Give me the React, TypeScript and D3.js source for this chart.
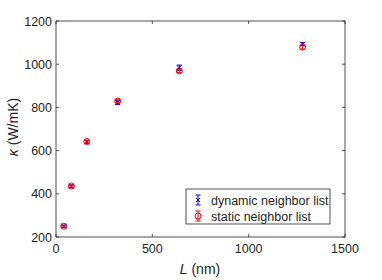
import React, { useEffect, useRef } from 'react';
import * as d3 from 'd3';

// chart data
const lengths = [40, 80, 160, 320, 640, 1280];
const dynamicKappa = [250, 435, 640, 822, 983, 1093];
const dynamicErr = [5, 6, 7, 9, 13, 7];
const staticKappa = [250, 436, 642, 829, 969, 1079];
const staticErr = [4, 5, 6, 7, 8, 9];
const xTicks = [0, 500, 1000, 1500];
const yTicks = [200, 400, 600, 800, 1000, 1200];
const legendLabels = ['dynamic neighbor list', 'static neighbor list'];

const App = () => {
  const svgRef = useRef<SVGSVGElement>(null);

  useEffect(() => {
    const svg = d3.select(svgRef.current);
    svg.selectAll('*').remove();

    const left = 56, right = 345, top = 21, bottom = 237;
    const axisColor = '#262626';
    const font = 'Liberation Sans, Arial, sans-serif';

    const x = d3.scaleLinear().domain([0, 1500]).range([left, right]);
    const y = d3.scaleLinear().domain([200, 1200]).range([bottom, top]);

    // frame
    svg.append('rect')
      .attr('x', left).attr('y', top)
      .attr('width', right - left).attr('height', bottom - top)
      .attr('fill', 'white').attr('stroke', axisColor).attr('stroke-width', 0.8);

    const tl = 3;
    // x ticks (bottom + top)
    xTicks.forEach(t => {
      const px = x(t);
      svg.append('line').attr('x1', px).attr('x2', px).attr('y1', bottom).attr('y2', bottom - tl)
        .attr('stroke', axisColor).attr('stroke-width', 0.8);
      svg.append('line').attr('x1', px).attr('x2', px).attr('y1', top).attr('y2', top + tl)
        .attr('stroke', axisColor).attr('stroke-width', 0.8);
      svg.append('text').attr('x', px).attr('y', bottom + 16)
        .attr('text-anchor', 'middle').attr('font-family', font).attr('font-size', 12.5)
        .attr('fill', axisColor).text(t);
    });
    yTicks.forEach(t => {
      const py = y(t);
      svg.append('line').attr('x1', left).attr('x2', left + tl).attr('y1', py).attr('y2', py)
        .attr('stroke', axisColor).attr('stroke-width', 0.8);
      svg.append('line').attr('x1', right).attr('x2', right - tl).attr('y1', py).attr('y2', py)
        .attr('stroke', axisColor).attr('stroke-width', 0.8);
      svg.append('text').attr('x', left - 4).attr('y', py + 4.5)
        .attr('text-anchor', 'end').attr('font-family', font).attr('font-size', 12.5)
        .attr('fill', axisColor).text(t);
    });

    // axis labels
    const xl = svg.append('text').attr('x', 200).attr('y', 274)
      .attr('text-anchor', 'middle').attr('font-family', font).attr('font-size', 14)
      .attr('fill', axisColor);
    xl.append('tspan').attr('font-style', 'italic').text('L');
    xl.append('tspan').text(' (nm)');

    const yl = svg.append('text')
      .attr('transform', `translate(18,127) rotate(-90)`)
      .attr('text-anchor', 'middle').attr('font-family', font).attr('font-size', 14)
      .attr('fill', axisColor);
    yl.append('tspan').attr('font-style', 'italic').text('κ');
    yl.append('tspan').text(' (W/mK)');

    const cap = 2.5;
    const errorBar = (g: any, cx: number, v: number, e: number, color: string) => {
      g.append('line').attr('x1', cx).attr('x2', cx).attr('y1', y(v - e)).attr('y2', y(v + e))
        .attr('stroke', color).attr('stroke-width', 1);
      [v - e, v + e].forEach(w => {
        g.append('line').attr('x1', cx - cap).attr('x2', cx + cap).attr('y1', y(w)).attr('y2', y(w))
          .attr('stroke', color).attr('stroke-width', 1);
      });
    };

    const g = svg.append('g');
    // dynamic (blue x)
    lengths.forEach((L, i) => {
      const cx = x(L), cy = y(dynamicKappa[i]);
      errorBar(g, cx, dynamicKappa[i], dynamicErr[i], '#0000ff');
      g.append('path').attr('d', `M${cx - 2.5},${cy - 2.5}L${cx + 2.5},${cy + 2.5}M${cx - 2.5},${cy + 2.5}L${cx + 2.5},${cy - 2.5}`)
        .attr('stroke', '#0000ff').attr('stroke-width', 1);
    });
    // static (red o)
    lengths.forEach((L, i) => {
      const cx = x(L), cy = y(staticKappa[i]);
      errorBar(g, cx, staticKappa[i], staticErr[i], '#ff0000');
      g.append('circle').attr('cx', cx).attr('cy', cy).attr('r', 3)
        .attr('fill', 'none').attr('stroke', '#ff0000').attr('stroke-width', 1);
    });

    // legend
    const lx = 186, ly = 189, lw = 144, lh = 35;
    svg.append('rect').attr('x', lx).attr('y', ly).attr('width', lw).attr('height', lh)
      .attr('fill', 'white').attr('stroke', axisColor).attr('stroke-width', 0.8);
    const rows = [ly + 11, ly + 27];
    legendLabels.forEach((lab, i) => {
      const cx = lx + 12, cy = rows[i];
      const color = i === 0 ? '#0000ff' : '#ff0000';
      const lg = svg.append('g');
      lg.append('line').attr('x1', cx).attr('x2', cx).attr('y1', cy - 5).attr('y2', cy + 5)
        .attr('stroke', color).attr('stroke-width', 1);
      [cy - 5, cy + 5].forEach(w => lg.append('line').attr('x1', cx - cap).attr('x2', cx + cap)
        .attr('y1', w).attr('y2', w).attr('stroke', color).attr('stroke-width', 1));
      if (i === 0) {
        lg.append('path').attr('d', `M${cx - 2},${cy - 2}L${cx + 2},${cy + 2}M${cx - 2},${cy + 2}L${cx + 2},${cy - 2}`)
          .attr('stroke', color).attr('stroke-width', 1);
      } else {
        lg.append('circle').attr('cx', cx).attr('cy', cy).attr('r', 3)
          .attr('fill', 'none').attr('stroke', color).attr('stroke-width', 1);
      }
      svg.append('text').attr('x', lx + 25).attr('y', cy + 4.5)
        .attr('font-family', font).attr('font-size', 12.5).attr('fill', axisColor).text(lab);
    });
  }, []);

  return (
    <div style={{ position: 'absolute', left: 0, top: 0 }}>
      <svg ref={svgRef} width={382} height={280} style={{ display: 'block', background: 'white' }} />
    </div>
  );
};

export default App;
